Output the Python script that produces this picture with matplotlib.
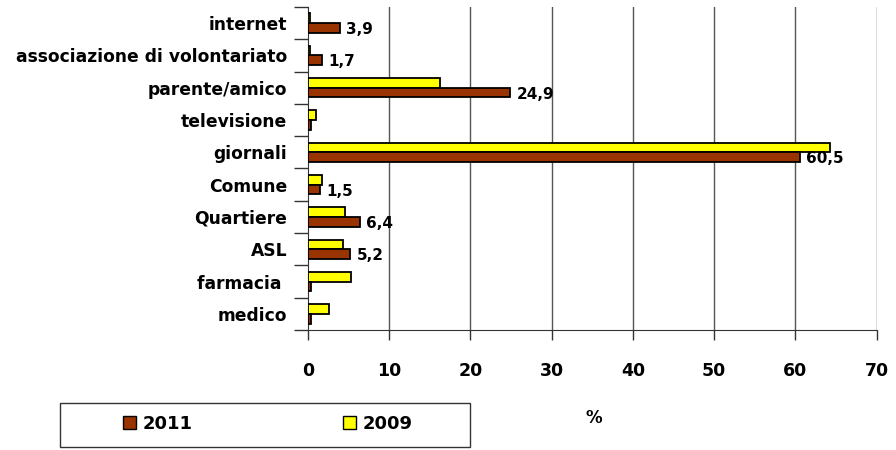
import numpy as np
import matplotlib
matplotlib.use('Agg')
import matplotlib.pyplot as plt
from matplotlib.patches import Patch, Rectangle

# --- data (percentages)
categories = ['internet', 'associazione di volontariato', 'parente/amico', 'televisione',
              'giornali', 'Comune', 'Quartiere', 'ASL', 'farmacia ', 'medico']
values_2011 = [3.9, 1.7, 24.9, 0.4, 60.5, 1.5, 6.4, 5.2, 0.4, 0.4]
values_2009 = [0.3, 0.3, 16.3, 1.0, 64.2, 1.7, 4.6, 4.3, 5.3, 2.6]
labels_2011 = ['3,9', '1,7', '24,9', '', '60,5', '1,5', '6,4', '5,2', '', '']
xticks = [0, 10, 20, 30, 40, 50, 60, 70]

brown = '#993300'
yellow = '#FFFF00'

plt.rcParams['font.family'] = ['DejaVu Sans']
plt.rcParams['font.weight'] = 'bold'

fig = plt.figure(figsize=(8.96, 4.5), dpi=100)
ax = fig.add_axes((308 / 896, 1 - 330 / 450, (876.7 - 308) / 896, (330 - 7) / 450))

n = len(categories)
y = np.arange(n)[::-1]
h = 0.3

ax.barh(y + h / 2, values_2009, height=h, color=yellow, edgecolor='black', linewidth=1.3, zorder=3)
ax.barh(y - h / 2, values_2011, height=h, color=brown, edgecolor='black', linewidth=1.3, zorder=3)

for yi, v, lab in zip(y, values_2011, labels_2011):
    if lab:
        ax.text(v + 0.8, yi - h / 2 - 0.05, lab, va='center', ha='left', fontsize=11, fontweight='bold')

ax.set_xlim(0, 70)
ax.set_ylim(-0.5, n - 0.5)
ax.set_xticks(xticks)
ax.set_xticklabels([str(t) for t in xticks], fontsize=12.5, fontweight='bold')
ax.tick_params(axis='x', direction='out', length=7, width=1, pad=16, color='#333333')

# category boundaries as ticks, names as minor labels
ax.set_yticks(np.arange(-0.5, n, 1.0))
ax.set_yticklabels([])
ax.tick_params(axis='y', which='major', direction='out', length=10, width=1, color='#333333')
ax.set_yticks(y, minor=True)
ax.set_yticklabels(categories, minor=True, fontsize=12.3, fontweight='bold')
ax.tick_params(axis='y', which='minor', length=0, pad=15)

ax.grid(axis='x', color='#555555', linewidth=1, zorder=0)
ax.xaxis.get_gridlines()[0].set_visible(False)
for side in ['top', 'right']:
    ax.spines[side].set_visible(False)
ax.spines['left'].set_color('#333333')
ax.spines['bottom'].set_color('#333333')

# legend box
fig.add_artist(Rectangle((60 / 896, 1 - 447 / 450), 410 / 896, 44 / 450, transform=fig.transFigure,
                         facecolor='white', edgecolor='#333333', linewidth=1))
handles = [Patch(facecolor=brown, edgecolor='black', label='2011'),
           Patch(facecolor=yellow, edgecolor='black', label='2009')]
fig.legend(handles=handles, loc='center', ncol=2, bbox_to_anchor=(268 / 896, 1 - 424 / 450),
           frameon=False, fontsize=13, handlelength=0.7, handleheight=0.7,
           handletextpad=0.4, columnspacing=8.3)

fig.text(594 / 896, 1 - 418 / 450, '%', ha='center', va='center', fontsize=12, fontweight='bold')

fig.savefig('out.png', dpi=100)
